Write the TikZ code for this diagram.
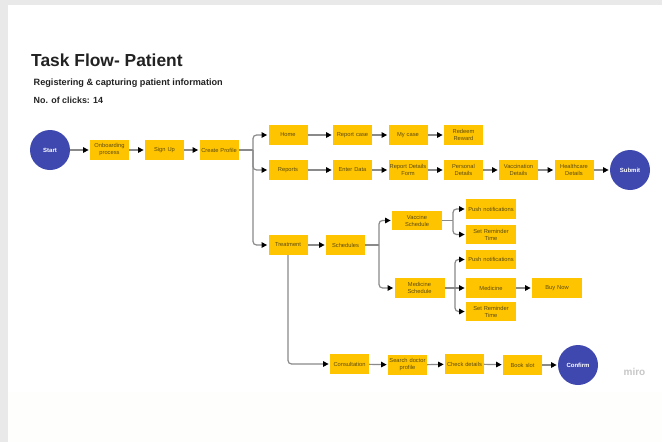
\documentclass[tikz,border=0pt]{standalone}
\usepackage{fontspec}
\setmainfont{Liberation Sans}
\usetikzlibrary{arrows.meta}
\definecolor{amberbox}{HTML}{FFC400}
\definecolor{indigocirc}{HTML}{3F48AE}
\definecolor{pagebg}{HTML}{FEFEFC}
\definecolor{framebg}{HTML}{E9E9E9}
\definecolor{boxtxt}{HTML}{5A4A10}
\definecolor{linegray}{HTML}{8A8A8A}
\definecolor{titletxt}{HTML}{222222}
\tikzset{
 x=1pt,y=-1pt,
 boxA/.style={fill=amberbox,draw=none,inner sep=0pt,align=center,text=boxtxt,font=\fontsize{5.75}{7}\selectfont,minimum height=19.6pt,text width=39pt,minimum width=39pt},
 boxB/.style={boxA,text width=49pt,minimum width=50pt},
 circ/.style={circle,fill=indigocirc,draw=none,minimum size=40pt,inner sep=0pt,text=white,font=\fontsize{6}{7}\selectfont\bfseries},
 stub/.style={draw=linegray,line width=1.2pt},
 conn/.style={draw=linegray,line width=1.2pt,rounded corners=3.5pt,-{Triangle[length=5.5pt,width=5.5pt,black]},shorten >=1.2pt},
 heading/.style={anchor=base west,inner sep=0pt,text=titletxt,font=\bfseries}
}
\begin{document}
\begin{tikzpicture}
\useasboundingbox (0,0) rectangle (662,442);
\fill[framebg] (0,0) rectangle (662,442);
\fill[pagebg] (8,5) rectangle (662,442);
\fill[white] (8,5) rectangle (662,392);
\node[heading,font=\fontsize{17.4}{20}\selectfont\bfseries] (title) at (31,66) {Task Flow- Patient};
\node[heading,font=\fontsize{9.15}{10}\selectfont\bfseries] (sub) at (33.5,85.5) {Registering \& capturing patient information};
\node[heading,font=\fontsize{8.9}{10}\selectfont\bfseries] (clicks) at (33.5,103) {No. of clicks: 14};
\node[anchor=center,inner sep=0pt,text=black!22,font=\fontsize{10}{10}\selectfont\bfseries] (miro) at (634.5,371.5) {miro};
% row 1
\node[circ] (start) at (50,150) {Start};
\node[boxA] (onb) at (109.5,150) {Onboarding\\process};
\node[boxA] (signup) at (164.5,150) {Sign Up};
\node[boxA] (create) at (219,150) {Create Profile};
\node[boxA] (home) at (288,135) {Home};
\node[boxA] (reports) at (288,170) {Reports};
\node[boxA] (rcase) at (352.5,135) {Report case};
\node[boxA] (mycase) at (408,135) {My case};
\node[boxA] (redeem) at (463.5,135) {Redeem\\Reward};
\node[boxA] (enter) at (352.5,170) {Enter Data};
\node[boxA] (rform) at (408,170) {Report Details\\Form};
\node[boxA] (personal) at (463.5,170) {Personal\\Details};
\node[boxA] (vacc) at (518.5,170) {Vaccination\\Details};
\node[boxA] (health) at (574,170) {Healthcare\\Details};
\node[circ] (submit) at (630,170) {Submit};
% treatment
\node[boxA] (treat) at (288,245) {Treatment};
\node[boxA] (sched) at (345.5,245) {Schedules};
\node[boxB] (vsched) at (417,220.5) {Vaccine\\Schedule};
\node[boxB] (push1) at (491,209) {Push notifications};
\node[boxB] (rem1) at (491,234.5) {Set Reminder\\Time};
\node[boxB] (msched) at (419.5,288) {Medicine\\Schedule};
\node[boxB] (push2) at (491,259.5) {Push notifications};
\node[boxB] (med) at (491,288) {Medicine};
\node[boxB] (buy) at (557,288) {Buy Now};
\node[boxB] (rem2) at (491,311.5) {Set Reminder\\Time};
% consultation
\node[boxA] (cons) at (349.5,364) {Consultation};
\node[boxA] (search) at (407.5,365) {Search doctor\\profile};
\node[boxA] (check) at (464.5,364) {Check details};
\node[boxA] (book) at (522.5,365) {Book slot};
\node[circ] (confirm) at (578,365) {Confirm};
% junctions
\coordinate (j1) at (253,150);
\coordinate (j2) at (379,245);
\coordinate (j3) at (453,220.5);
\coordinate (j4) at (455,288);
\coordinate (j5) at (288,364);
% connectors
\draw[conn] (start) -- (onb);
\draw[conn] (onb) -- (signup);
\draw[conn] (signup) -- (create);
\draw[stub] (create.east) -- (j1);
\draw[conn] (j1) |- (home.west);
\draw[conn] (j1) |- (reports.west);
\draw[conn] (j1) |- (treat.west);
\draw[conn] (home) -- (rcase);
\draw[conn] (rcase) -- (mycase);
\draw[conn] (mycase) -- (redeem);
\draw[conn] (reports) -- (enter);
\draw[conn] (enter) -- (rform);
\draw[conn] (rform) -- (personal);
\draw[conn] (personal) -- (vacc);
\draw[conn] (vacc) -- (health);
\draw[conn] (health) -- (submit);
\draw[conn] (treat) -- (sched);
\draw[stub] (sched.east) -- (j2);
\draw[conn] (j2) |- (vsched.west);
\draw[conn] (j2) |- (msched.west);
\draw[stub] (vsched.east) -- (j3);
\draw[conn] (j3) |- (push1.west);
\draw[conn] (j3) |- (rem1.west);
\draw[stub] (msched.east) -- (j4);
\draw[conn] (j4) |- (push2.west);
\draw[conn] (j4) -- (med.west);
\draw[conn] (j4) |- (rem2.west);
\draw[conn] (med) -- (buy);
\draw[conn] (treat.south) |- (cons.west);
\draw[conn] (cons) -- (search);
\draw[conn] (search) -- (check);
\draw[conn] (check) -- (book);
\draw[conn] (book) -- (confirm);
\end{tikzpicture}
\end{document}
